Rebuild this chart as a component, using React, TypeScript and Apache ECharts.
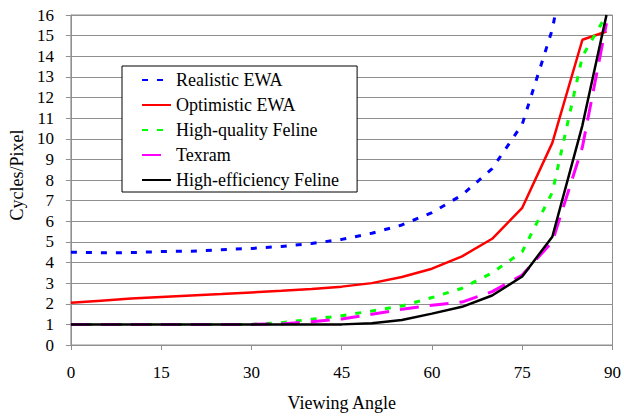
import React, { useEffect, useRef } from "react";
import * as echarts from "echarts";

const angles = [0, 5, 10, 15, 20, 25, 30, 35, 40, 45, 50, 55, 60, 65, 70, 75, 80, 85, 89];
const realisticEWA = [4.5, 4.47, 4.48, 4.53, 4.55, 4.62, 4.68, 4.78, 4.92, 5.12, 5.42, 5.82, 6.42, 7.27, 8.55, 10.7, 15.3, 23, 29];
const optimisticEWA = [2.05, 2.15, 2.25, 2.33, 2.4, 2.47, 2.55, 2.63, 2.72, 2.83, 3.0, 3.3, 3.7, 4.3, 5.15, 6.65, 9.8, 14.8, 15.2];
const highQualityFeline = [1, 1, 1, 1, 1, 1, 1.0, 1.08, 1.25, 1.42, 1.65, 1.89, 2.3, 2.75, 3.5, 4.52, 7.4, 14.0, 16.0];
const texram = [1, 1, 1, 1, 1, 1, 1, 1.02, 1.13, 1.26, 1.49, 1.73, 1.93, 2.08, 2.59, 3.39, 5.01, 9.6, 15.6];
const highEfficiencyFeline = [1, 1, 1, 1, 1, 1, 1, 1, 1, 1, 1.05, 1.21, 1.52, 1.85, 2.4, 3.32, 5.25, 10.65, 16.0];

const seriesNames = ["Realistic EWA", "Optimistic EWA", "High-quality Feline", "Texram", "High-efficiency Feline"];

const FONT = "'Liberation Serif', 'Times New Roman', serif";
const GRID = "#8f8f8f";

function pairs(vals: number[]) {
  return angles.map((a, i) => [a, vals[i]]);
}

export default function App() {
  const ref = useRef<HTMLDivElement>(null);
  useEffect(() => {
    if (!ref.current) return;
    const chart = echarts.init(ref.current, undefined, { renderer: "svg" });
    const mk = (name: string, vals: number[], color: string, width: number, type: any) => ({
      name,
      type: "line",
      data: pairs(vals),
      symbol: "none",
      clip: true,
      lineStyle: { color, width, type, cap: "butt" },
      itemStyle: { color },
    });
    chart.setOption({
      animation: false,
      backgroundColor: "#ffffff",
      textStyle: { fontFamily: FONT },
      grid: {
        left: 69,
        right: 11,
        top: 15,
        bottom: 72,
        show: true,
        borderColor: GRID,
        borderWidth: 1,
        backgroundColor: "transparent",
      },
      legend: {
        orient: "vertical",
        left: 122,
        top: 66,
        data: seriesNames,
        itemWidth: 29,
        itemHeight: 14,
        itemGap: 7,
        padding: [5, 18, 3, 19],
        backgroundColor: "#ffffff",
        borderColor: "#000000",
        borderWidth: 1,
        itemStyle: { opacity: 0 },
        textStyle: { fontFamily: FONT, fontSize: 18, color: "#000" },
      },
      xAxis: {
        type: "value",
        min: 0,
        max: 90,
        interval: 15,
        name: "Viewing Angle",
        nameLocation: "middle",
        nameGap: 49,
        nameTextStyle: { fontFamily: FONT, fontSize: 18, color: "#000" },
        axisLine: { show: true, lineStyle: { color: GRID, width: 1 } },
        axisTick: { show: true, length: 5, lineStyle: { color: GRID, width: 1 } },
        axisLabel: { margin: 19, fontFamily: FONT, fontSize: 17, color: "#000" },
        splitLine: { show: false },
      },
      yAxis: {
        type: "value",
        min: 0,
        max: 16,
        interval: 1,
        name: "Cycles/Pixel",
        nameLocation: "middle",
        nameGap: 42,
        nameRotate: 90,
        nameTextStyle: { fontFamily: FONT, fontSize: 18, color: "#000", padding: [0, 0, 0, 10] },
        axisLine: { show: true, lineStyle: { color: GRID, width: 1 } },
        axisTick: { show: true, length: 5, lineStyle: { color: GRID, width: 1 } },
        axisLabel: { margin: 17, fontFamily: FONT, fontSize: 17, color: "#000" },
        splitLine: { show: true, lineStyle: { color: GRID, width: 1 } },
      },
      series: [
        mk(seriesNames[0], realisticEWA, "#0000ff", 3, [6, 9]),
        mk(seriesNames[1], optimisticEWA, "#ff0000", 2.5, "solid"),
        mk(seriesNames[2], highQualityFeline, "#00ff00", 3, [6, 9]),
        mk(seriesNames[3], texram, "#ff00ff", 3, [19, 11]),
        mk(seriesNames[4], highEfficiencyFeline, "#000000", 2.5, "solid"),
      ],
    });
    return () => chart.dispose();
  }, []);
  return (
    <div
      ref={ref}
      style={{ position: "fixed", left: 0, top: 0, width: 624, height: 417, background: "#fff" }}
    />
  );
}
